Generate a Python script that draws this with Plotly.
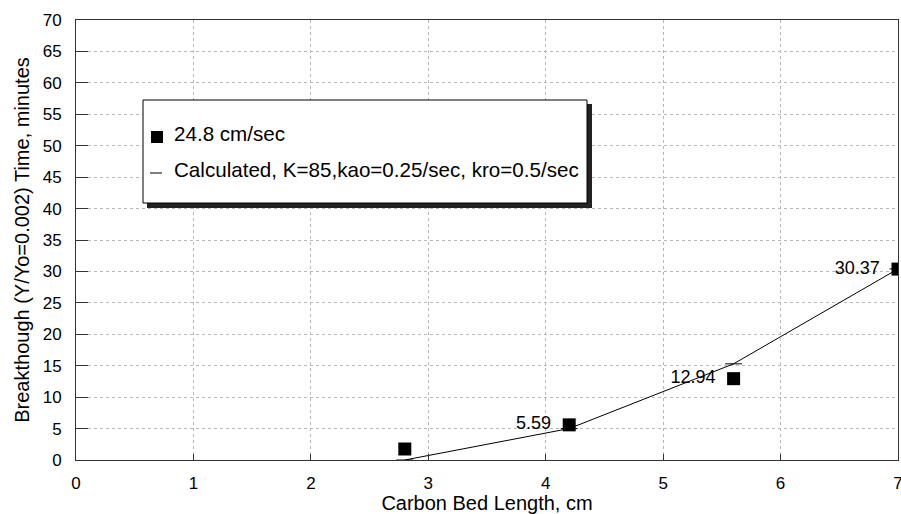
import plotly.graph_objects as go

# Data
bed_length = [2.8, 4.2, 5.6, 7.0]
breakthrough = [1.75, 5.59, 12.94, 30.37]
point_labels = ["", "5.59", "12.94", "30.37"]
calc_length = [2.8, 4.2, 5.6, 7.0]
calc_time = [0.0, 5.0, 15.3, 30.4]

x_ticks = [0, 1, 2, 3, 4, 5, 6, 7]
y_ticks = list(range(0, 75, 5))

legend_labels = ["24.8 cm/sec", "Calculated, K=85,kao=0.25/sec, kro=0.5/sec"]

FONT = "Liberation Sans, Arial, sans-serif"

# layout geometry (pixels)
W, H = 901, 514
L, R, T, B = 76, 3, 20, 54
PW = W - L - R
PH = H - T - B


def px(x):
    return (x - L) / PW


def py(y):
    return (H - B - y) / PH


fig = go.Figure()

fig.add_trace(go.Scatter(
    x=calc_length, y=calc_time, mode="lines+markers",
    line=dict(color="black", width=1),
    marker=dict(symbol="line-ew", size=12, line=dict(color="black", width=1)),
    showlegend=False, hoverinfo="skip",
))

fig.add_trace(go.Scatter(
    x=bed_length, y=breakthrough, mode="markers+text",
    marker=dict(symbol="square", size=13, color="black"),
    text=point_labels, texttemplate="%{text}\u2002", textposition="middle left",
    textfont=dict(family=FONT, size=18, color="black"),
    showlegend=False,
))

shapes = [
    # legend shadow
    dict(type="rect", xref="paper", yref="paper",
         x0=px(147), x1=px(592), y0=py(208), y1=py(104),
         fillcolor="#222", line=dict(width=0), layer="above"),
    # legend box
    dict(type="rect", xref="paper", yref="paper",
         x0=px(143), x1=px(587), y0=py(203), y1=py(100),
         fillcolor="white", line=dict(color="black", width=1), layer="above"),
    # legend square symbol
    dict(type="rect", xref="paper", yref="paper",
         x0=px(151), x1=px(163), y0=py(143), y1=py(131),
         fillcolor="black", line=dict(width=0), layer="above"),
    # legend dash symbol
    dict(type="line", xref="paper", yref="paper",
         x0=px(150), x1=px(162), y0=py(173), y1=py(173),
         line=dict(color="black", width=1), layer="above"),
]

annotations = [
    dict(xref="paper", yref="paper", x=px(172), y=py(134), text=legend_labels[0],
         showarrow=False, xanchor="left", yanchor="middle",
         font=dict(family=FONT, size=20.6, color="black")),
    dict(xref="paper", yref="paper", x=px(172), y=py(169), text=legend_labels[1],
         showarrow=False, xanchor="left", yanchor="middle",
         font=dict(family=FONT, size=20.6, color="black")),
]

fig.update_layout(
    width=W, height=H,
    margin=dict(l=L, r=R, t=T, b=B, pad=0),
    paper_bgcolor="white", plot_bgcolor="white",
    font=dict(family=FONT, color="black"),
    shapes=shapes, annotations=annotations,
    xaxis=dict(
        range=[0, 7], tickvals=x_ticks, ticktext=[str(v) for v in x_ticks],
        automargin=False, ticklabeloverflow="allow",
        showgrid=True, gridcolor="#b8b8b8", griddash="dot", gridwidth=1,
        showline=True, linecolor="#333", linewidth=1, mirror=True,
        ticks="inside", ticklen=6, tickcolor="#333",
        tickfont=dict(family=FONT, size=17, color="black"),
        ticklabelstandoff=8,
        title=dict(text="Carbon Bed Length, cm", standoff=4,
                   font=dict(family=FONT, size=20, color="black")),
        zeroline=False,
    ),
    yaxis=dict(
        range=[0, 70], tickvals=y_ticks, ticktext=[str(v) for v in y_ticks],
        automargin=False, ticklabeloverflow="allow",
        showgrid=True, gridcolor="#b8b8b8", griddash="dot", gridwidth=1,
        showline=True, linecolor="#333", linewidth=1, mirror=True,
        ticks="inside", ticklen=12, tickcolor="#333",
        tickfont=dict(family=FONT, size=17, color="black"),
        ticklabelstandoff=10,
        title=dict(text="Breakthough (Y/Yo=0.002) Time, minutes", standoff=7,
                   font=dict(family=FONT, size=20, color="black")),
        zeroline=False,
    ),
)

fig.write_html(
    "out.html",
    config={"displayModeBar": False},
    post_script="document.body.style.margin='0';document.body.style.padding='0';"
                "document.body.style.overflow='hidden';",
)
